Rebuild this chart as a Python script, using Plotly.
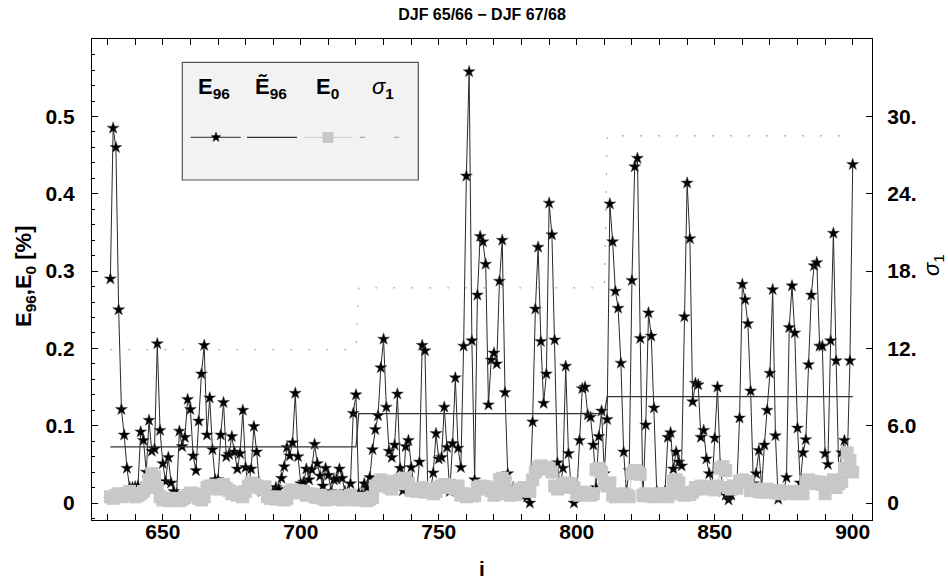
import plotly.graph_objects as go
import math

# ---------------- data ----------------
day_start = 631
e96_w1 = [0.29, 0.485, 0.46, 0.25, 0.121, 0.088, 0.045, 0.020, 0.020, 0.021,
          0.022, 0.092, 0.081, 0.040, 0.107, 0.067, 0.070, 0.206, 0.094, 0.051,
          0.028, 0.059, 0.026, 0.015, 0.012, 0.093, 0.073, 0.085, 0.134, 0.121,
          0.061, 0.042, 0.106, 0.167, 0.204, 0.088, 0.136, 0.069, 0.030, 0.030,
          0.088, 0.130, 0.060, 0.063, 0.086, 0.066, 0.044, 0.064, 0.120, 0.046,
          0.021, 0.044, 0.099, 0.066, 0.025, 0.015, 0.010, 0.012, 0.008, 0.015,
          0.020, 0.018, 0.032, 0.047, 0.072, 0.061, 0.078, 0.142, 0.060, 0.025,
          0.027, 0.044, 0.030, 0.043, 0.076, 0.051, 0.035, 0.022, 0.045, 0.036,
          0.015, 0.030, 0.031, 0.044, 0.032, 0.015, 0.010, 0.025, 0.116, 0.140]
e96_w2 = [0.013, 0.010, 0.025, 0.020, 0.033, 0.069, 0.095, 0.113, 0.175, 0.212,
          0.124, 0.067, 0.059, 0.075, 0.141, 0.045, 0.016, 0.073, 0.081, 0.046,
          0.020, 0.015, 0.053, 0.204, 0.197, 0.019, 0.015, 0.039, 0.090, 0.057,
          0.059, 0.124, 0.072, 0.015, 0.077, 0.162, 0.071, 0.046, 0.203, 0.423,
          0.558, 0.210, 0.030, 0.269, 0.345, 0.338, 0.309, 0.127, 0.185, 0.194,
          0.180, 0.287, 0.340, 0.143, 0.038, 0.010, 0.020, 0.010, 0.020, 0.010,
          0.010, 0.008, 0.000, 0.105, 0.251, 0.331, 0.209, 0.129, 0.167, 0.388,
          0.347, 0.211, 0.052, 0.020, 0.045, 0.177, 0.064, 0.020, 0.000, 0.010,
          0.081, 0.148, 0.150, 0.114, 0.111, 0.075, 0.020, 0.086, 0.119, 0.038]
e96_w3 = [0.108, 0.387, 0.338, 0.274, 0.252, 0.181, 0.066, 0.015, 0.042, 0.288,
          0.435, 0.446, 0.213, 0.008, 0.101, 0.246, 0.216, 0.123, 0.015, 0.012,
          0.012, 0.015, 0.085, 0.091, 0.044, 0.066, 0.053, 0.048, 0.241, 0.414,
          0.342, 0.131, 0.155, 0.153, 0.085, 0.094, 0.057, 0.038, 0.020, 0.084,
          0.150, 0.049, 0.015, 0.010, 0.004, 0.010, 0.020, 0.020, 0.110, 0.283,
          0.263, 0.232, 0.145, 0.025, 0.038, 0.068, 0.020, 0.075, 0.120, 0.168,
          0.276, 0.087, 0.005, 0.010, 0.015, 0.033, 0.227, 0.281, 0.220, 0.097,
          0.026, 0.065, 0.082, 0.179, 0.269, 0.307, 0.311, 0.203, 0.203, 0.064,
          0.050, 0.210, 0.349, 0.184, 0.030, 0.065, 0.081, 0.050, 0.184, 0.438]

e0_w1 = [0.008, 0.006, 0.010, 0.012, 0.008, 0.012, 0.010, 0.015, 0.012, 0.008,
         0.010, 0.012, 0.015, 0.020, 0.030, 0.038, 0.034, 0.020, 0.008, 0.004,
         0.006, 0.003, 0.005, 0.004, 0.006, 0.003, 0.005, 0.007, 0.010, 0.013,
         0.012, 0.010, 0.006, 0.004, 0.008, 0.020, 0.022, 0.021, 0.023, 0.018,
         0.020, 0.024, 0.019, 0.016, 0.012, 0.014, 0.010, 0.012, 0.008, 0.015,
         0.022, 0.026, 0.024, 0.022, 0.020, 0.018, 0.021, 0.008, 0.006, 0.007,
         0.005, 0.008, 0.006, 0.004, 0.006, 0.015, 0.017, 0.014, 0.016, 0.013,
         0.015, 0.010, 0.012, 0.011, 0.008, 0.007, 0.010, 0.006, 0.004, 0.008,
         0.005, 0.007, 0.009, 0.006, 0.004, 0.006, 0.008, 0.010, 0.006, 0.004]
e0_w2 = [0.005, 0.004, 0.006, 0.003, 0.005, 0.007, 0.022, 0.024, 0.030, 0.028,
         0.023, 0.020, 0.018, 0.028, 0.025, 0.030, 0.028, 0.032, 0.025, 0.016,
         0.018, 0.015, 0.017, 0.020, 0.014, 0.016, 0.018, 0.012, 0.015, 0.020,
         0.022, 0.024, 0.020, 0.023, 0.021, 0.018, 0.022, 0.010, 0.012, 0.008,
         0.011, 0.009, 0.010, 0.020, 0.022, 0.018, 0.021, 0.019, 0.016, 0.010,
         0.012, 0.030, 0.032, 0.028, 0.012, 0.010, 0.014, 0.012, 0.018, 0.016,
         0.020, 0.018, 0.015, 0.030, 0.040, 0.046, 0.048, 0.044, 0.046, 0.045,
         0.040, 0.022, 0.018, 0.020, 0.024, 0.026, 0.022, 0.025, 0.020, 0.012,
         0.010, 0.012, 0.014, 0.011, 0.010, 0.012, 0.043, 0.045, 0.040, 0.025]
e0_w3 = [0.022, 0.026, 0.010, 0.008, 0.011, 0.009, 0.012, 0.010, 0.008, 0.038,
         0.042, 0.040, 0.037, 0.010, 0.012, 0.009, 0.011, 0.008, 0.010, 0.012,
         0.009, 0.010, 0.008, 0.012, 0.028, 0.030, 0.026, 0.012, 0.010, 0.013,
         0.011, 0.014, 0.020, 0.018, 0.022, 0.019, 0.020, 0.021, 0.018, 0.017,
         0.022, 0.045, 0.047, 0.042, 0.020, 0.018, 0.022, 0.019, 0.028, 0.030,
         0.026, 0.028, 0.016, 0.018, 0.017, 0.015, 0.014, 0.016, 0.018, 0.014,
         0.015, 0.013, 0.016, 0.012, 0.014, 0.015, 0.013, 0.014, 0.012, 0.015,
         0.013, 0.012, 0.027, 0.030, 0.026, 0.028, 0.025, 0.027, 0.024, 0.012,
         0.025, 0.026, 0.030, 0.020, 0.025, 0.028, 0.045, 0.065, 0.055, 0.040]

# per-winter median (E~96) and sigma_1 levels
e96_tilde_levels = [0.0725, 0.1155, 0.1375]
sigma1_levels = [11.9, 16.7, 28.5]

x_ticks = [650, 700, 750, 800, 850, 900]
y_ticks = [0, 0.1, 0.2, 0.3, 0.4, 0.5]
y_ticktext = ["0", "0.1", "0.2", "0.3", "0.4", "0.5"]
y2_ticks = [0, 6, 12, 18, 24, 30]
y2_ticktext = ["0", "6.0", "12.", "18.", "24.", "30."]

# ---------------- build series ----------------
winters_e96 = [e96_w1, e96_w2, e96_w3]
e96 = e96_w1 + e96_w2 + e96_w3
e0 = e0_w1 + e0_w2 + e0_w3
days = list(range(day_start, day_start + len(e96)))
e96_tilde = []
sigma1 = []
for w, vals in enumerate(winters_e96):
    e96_tilde += [e96_tilde_levels[w]] * len(vals)
    sigma1 += [sigma1_levels[w]] * len(vals)

FONT = "Liberation Sans"
W, H = 948, 581
ML, MR, MT, MB = 92, 76, 39, 61
PW, PH = W - ML - MR, H - MT - MB

y_range = [-0.022, 0.6003]
x_range = [624.34, 906.99]
SCALE2 = 60.0

fig = go.Figure()

fig.add_trace(go.Scatter(
    x=days, y=e96, mode="lines+markers", name="E96",
    line=dict(color="#2a2a2a", width=1),
    marker=dict(symbol="star", size=9, color="black",
                line=dict(color="#444", width=0.5)),
    showlegend=False))
fig.add_trace(go.Scatter(
    x=days, y=e96_tilde, mode="lines", name="E~96",
    line=dict(color="#333333", width=1.2), showlegend=False))
fig.add_trace(go.Scatter(
    x=days, y=e0, mode="lines+markers", name="E0",
    line=dict(color="#d0d0d0", width=1),
    marker=dict(symbol="square", size=13, color="#c8c8c8", line=dict(width=0)),
    showlegend=False))
fig.add_trace(go.Scatter(
    x=days, y=sigma1, mode="lines", name="sigma1", yaxis="y2",
    line=dict(color="#999999", width=1, dash="2px,16px"),
    showlegend=False))

tickfont = dict(family=FONT, size=21, color="black", weight="bold")

fig.update_layout(
    width=W, height=H,
    margin=dict(l=ML, r=MR, t=MT, b=MB, autoexpand=False),
    paper_bgcolor="white", plot_bgcolor="white",
    title=dict(text="<b>DJF 65/66 \u2212 DJF 67/68</b>",
               font=dict(family=FONT, size=16, color="black"),
               x=(ML + PW / 2) / W, xanchor="center",
               y=1 - 14 / H, yanchor="middle"),
    xaxis=dict(range=x_range, tickvals=x_ticks, ticks="inside", ticklen=6,
               tickcolor="black", tickwidth=1, showline=True, linecolor="black",
               linewidth=1.3, mirror="allticks", showgrid=False, zeroline=False,
               tickfont=tickfont, ticklabelstandoff=-7,
               minor=dict(dtick=10, ticks="inside", ticklen=3,
                          tickcolor="black", showgrid=False)),
    yaxis=dict(range=y_range, tickvals=y_ticks, ticktext=y_ticktext,
               ticks="inside", ticklen=6, tickcolor="black", showline=True,
               linecolor="black", linewidth=1.3, mirror=False, showgrid=False,
               zeroline=False, tickfont=tickfont, ticklabelstandoff=12,
               minor=dict(dtick=0.02, ticks="inside", ticklen=3,
                          tickcolor="black", showgrid=False)),
    yaxis2=dict(range=[y_range[0] * SCALE2, y_range[1] * SCALE2],
                overlaying="y", side="right", tickvals=y2_ticks,
                ticktext=y2_ticktext, ticks="inside", ticklen=6,
                tickcolor="black", showline=True, linecolor="black",
                linewidth=1.3, showgrid=False, zeroline=False,
                tickfont=tickfont, ticklabelstandoff=10),
    showlegend=False,
)


def px_to_paper(px, py):
    return (px - ML) / PW, (MT + PH - py) / PH


annots = []
# axis titles
ax, ay = px_to_paper(482, 568)
annots.append(dict(text="<b>i</b>", x=ax, y=ay, xref="paper", yref="paper",
                   showarrow=False, font=dict(family=FONT, size=21, color="black"),
                   xanchor="center", yanchor="middle"))
ax, ay = px_to_paper(25, 276)
annots.append(dict(text="<b>E<sub>96</sub>,E<sub>0</sub> [%]</b>", x=ax, y=ay,
                   xref="paper", yref="paper", showarrow=False, textangle=-90,
                   font=dict(family=FONT, size=22, color="black"),
                   xanchor="center", yanchor="middle"))
ax, ay = px_to_paper(933, 265)
annots.append(dict(text="<i>\u03c3</i><sub>1</sub>", x=ax, y=ay,
                   xref="paper", yref="paper", showarrow=False, textangle=-90,
                   font=dict(family=FONT, size=22, color="black"),
                   xanchor="center", yanchor="middle"))

# legend box
shapes = []
bx0, by0 = px_to_paper(182.3, 180)
bx1, by1 = px_to_paper(418.3, 62.3)
shapes.append(dict(type="rect", xref="paper", yref="paper", x0=bx0, x1=bx1,
                   y0=by0, y1=by1, fillcolor="#f2f2f2",
                   line=dict(color="#555555", width=1.2), layer="above"))

hdr_y = 88
headers = [("<b>E<sub>96</sub></b>", 214), ("<b>\u1ebc<sub>96</sub></b>", 271),
           ("<b>E<sub>0</sub></b>", 327), ("<i>\u03c3</i><b><sub>1</sub></b>", 383)]
for txt, cx in headers:
    ax, ay = px_to_paper(cx, hdr_y)
    annots.append(dict(text=txt, x=ax, y=ay, xref="paper", yref="paper",
                       showarrow=False, xanchor="center", yanchor="middle",
                       font=dict(family=FONT, size=22, color="black")))

sample_y = 137.3


def hline(x0, x1, color, width, dash="solid"):
    a0, b0 = px_to_paper(x0, sample_y)
    a1, _ = px_to_paper(x1, sample_y)
    shapes.append(dict(type="line", xref="paper", yref="paper", x0=a0, x1=a1,
                       y0=b0, y1=b0, line=dict(color=color, width=width, dash=dash),
                       layer="above"))


hline(190.7, 240.7, "#2a2a2a", 1)
hline(247, 297, "#333333", 1.2)
hline(304, 353, "#d0d0d0", 1)
hline(360, 365, "#999999", 1)
hline(394, 399, "#999999", 1)

# legend square for E0
sx0, sy0 = px_to_paper(322.5, 143)
sx1, sy1 = px_to_paper(333.5, 132)
shapes.append(dict(type="rect", xref="paper", yref="paper", x0=sx0, x1=sx1,
                   y0=sy0, y1=sy1, fillcolor="#c8c8c8", line=dict(width=0),
                   layer="above"))

# legend star for E96
cx, cy = 216, sample_y
pts = []
for k in range(10):
    r = 5.0 if k % 2 == 0 else 2.1
    ang = -math.pi / 2 + k * math.pi / 5
    pts.append(px_to_paper(cx + r * math.cos(ang), cy + r * math.sin(ang)))
path = "M " + " L ".join(f"{p[0]:.5f},{p[1]:.5f}" for p in pts) + " Z"
shapes.append(dict(type="path", xref="paper", yref="paper", path=path,
                   fillcolor="black", line=dict(color="black", width=0.5),
                   layer="above"))

fig.update_layout(annotations=annots, shapes=shapes)

fig.write_html("out.html")
